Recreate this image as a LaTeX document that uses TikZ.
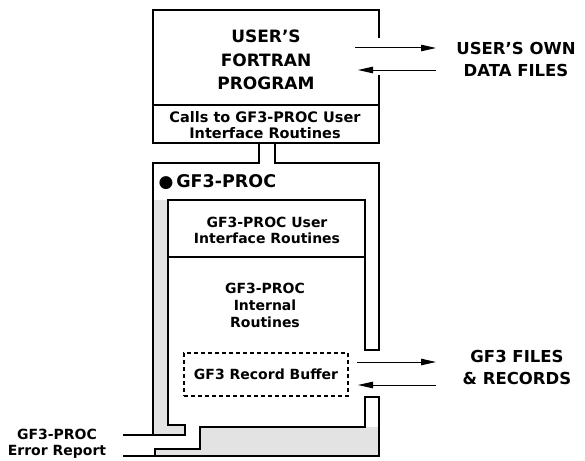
\documentclass[tikz,border=0pt]{standalone}
\usepackage{fontspec}
\setmainfont{DejaVu Sans}
\usetikzlibrary{arrows.meta}

\begin{document}
\begin{tikzpicture}[x=1pt,y=-1pt,line width=1.2pt,
  big_text/.style={font=\fontsize{16.5}{22}\selectfont\bfseries,align=center,inner sep=0pt},
  mid_text/.style={font=\fontsize{14}{16}\selectfont\bfseries,align=center,inner sep=0pt},
  small_text/.style={font=\fontsize{14}{15.5}\selectfont\bfseries,align=center,inner sep=0pt},
  stipple/.style={fill=black!11,draw=none},
  flow/.style={line width=1pt,-{Triangle[length=15pt,width=6.5pt]}}]

    \useasboundingbox (0,0) rectangle (585,460);

    % shaded walls
    \fill[stipple] (153,200) -- (168,200) -- (168,425) -- (185,425) -- (185,435) -- (153,435) -- cycle;
    \fill[stipple] (200,427) -- (379,427) -- (379,456) -- (155,456) -- (155,449) -- (200,449) -- cycle;

    % user's program box
    \draw (379,38) -- (379,10) -- (153,10) -- (153,143) -- (379,143) -- (379,75);
    \draw (153,105) -- (379,105);

    % GF3-PROC block
    \draw (259,143) -- (259,163) -- (153,163) -- (153,435);
    \draw (275,143) -- (275,163) -- (379,163) -- (379,350) -- (365,350) -- (365,200)
          -- (168,200) -- (168,425) -- (185,425) -- (185,435) -- (123,435);
    \draw (168,257) -- (365,257);
    \draw (123,456) -- (379,456) -- (379,397) -- (365,397) -- (365,427) -- (200,427)
          -- (200,449) -- (155,449) -- (155,456);

    \node[big_text,font=\fontsize{17}{23.5}\selectfont\bfseries] (prog) at (266,60) {USER'S\\FORTRAN\\PROGRAM};
    \node[mid_text,font=\fontsize{14.5}{16}\selectfont\bfseries] (calls) at (265,125) {Calls to GF3-PROC User\\Interface Routines};
    \node[big_text,anchor=west,font=\fontsize{17.5}{20}\selectfont\bfseries] (title) at (158,182) {{\fontsize{17}{17}\selectfont ●}\,GF3-PROC};
    \node[mid_text] (uir) at (267,230) {GF3-PROC User\\Interface Routines};
    \node[mid_text,font=\fontsize{14}{17}\selectfont\bfseries] (internal) at (265,305) {GF3-PROC\\Internal\\Routines};
    \node[mid_text,draw,dashed,dash pattern=on 4pt off 3pt,minimum width=164pt,minimum height=43pt] (buffer) at (266,374.5) {GF3 Record Buffer};
    \node[big_text] (own) at (516,59) {USER'S OWN\\DATA FILES};
    \node[big_text] (files) at (517,367) {GF3 FILES\\\& RECORDS};
    \node[small_text] (err) at (57,444) {GF3-PROC\\Error Report};

    \coordinate (prog_out) at (355,48);
    \coordinate (own_in) at (436,48);
    \coordinate (own_out) at (436,70);
    \coordinate (prog_in) at (358,70);
    \coordinate (buf_out) at (357,362);
    \coordinate (files_in) at (436,362);
    \coordinate (files_out) at (436,385);
    \coordinate (buf_in) at (358,385);

    \draw[flow] (prog_out) -- (own_in);
    \draw[flow] (own_out) -- (prog_in);
    \draw[flow] (buf_out) -- (files_in);
    \draw[flow] (files_out) -- (buf_in);

\end{tikzpicture}
\end{document}
